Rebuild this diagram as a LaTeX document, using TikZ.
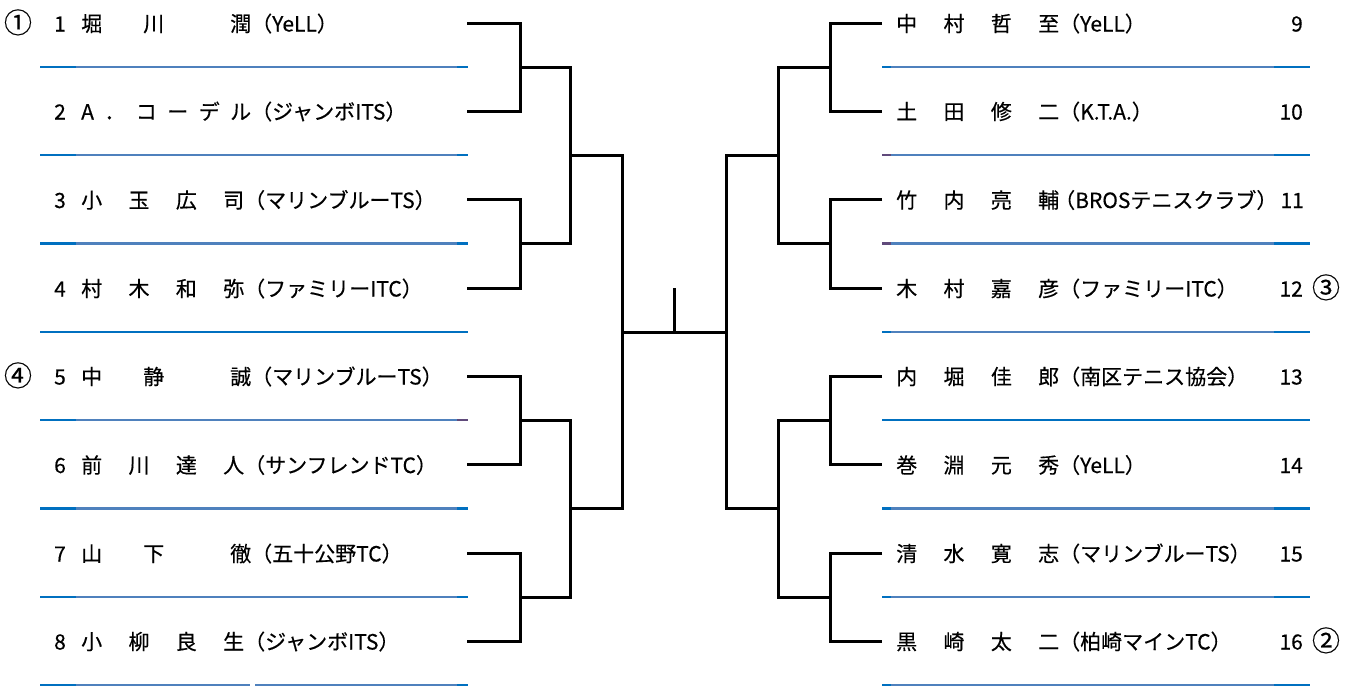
\documentclass[tikz,border=0pt]{standalone}
\usepackage{fontspec}
\setmainfont{Noto Sans CJK JP}[FakeBold=0.4]
\definecolor{rulemain}{HTML}{4F81BD}
\definecolor{rulebright}{HTML}{0070C0}
\definecolor{rulepurple}{HTML}{604A7B}
\tikzset{
  entry/.style={anchor=base west, inner sep=0pt, font=\fontsize{21}{24}\selectfont},
  seedno/.style={anchor=base east, inner sep=0pt, font=\fontsize{21}{24}\selectfont},
  seedmark/.style={anchor=base, inner sep=0pt, font=\fontsize{28}{30}\selectfont},
  bracket/.style={line width=3pt},
  rule/.style={line width=2.8pt, color=rulemain},
}
% names spread over a fixed width
\newcommand\nameL[4]{\makebox[163pt][s]{#1\hfill#2\hfill#3\hfill#4}}
\newcommand\nameLt[3]{\makebox[170pt][s]{#1\hspace{41pt}#2\hfill#3}}
\newcommand\nameR[4]{\makebox[163pt][s]{#1\hfill#2\hfill#3\hfill#4}}
\begin{document}
\begin{tikzpicture}[x=1pt,y=-1pt]
\useasboundingbox (0,0) rectangle (1356,686);

% separator rules, left and right
\foreach \y in {67,155,243.5,508.5,597} {
  \draw[rule] (76,\y) -- (457,\y);
  \draw[rule, rulebright] (40,\y) -- (76,\y);
  \draw[rule, rulebright] (457,\y) -- (468,\y);
}
\draw[rule, rulebright] (40,332) -- (468,332);
\draw[rule] (76,420) -- (457,420);
\draw[rule, rulebright] (40,420) -- (76,420);
\draw[rule, rulepurple] (457,420) -- (468,420);
\draw[rule] (76,685) -- (250,685);
\draw[rule] (255,685) -- (457,685);
\draw[rule, rulebright] (40,685) -- (76,685);
\draw[rule, rulebright] (457,685) -- (468,685);
\foreach \y/\c in {67/rulebright,155/rulepurple,243.5/rulepurple,332/rulebright,508.5/rulebright,597/rulebright,685/rulebright} {
  \draw[rule] (891,\y) -- (1274,\y);
  \draw[rule, \c] (882,\y) -- (891,\y);
  \draw[rule, rulebright] (1274,\y) -- (1310,\y);
}
\draw[rule, rulebright] (882,420) -- (1310,420);

% left players
\node (s1) [seedmark] at (18,33) {①};
\node (s4) [seedmark] at (18,386) {④};
\node (k1) [entry] at (54,31.5) {1};
\node (k2) [entry] at (54,119.5) {2};
\node (k3) [entry] at (54,208) {3};
\node (k4) [entry] at (54,296.5) {4};
\node (k5) [entry] at (54,384.5) {5};
\node (k6) [entry] at (54,473) {6};
\node (k7) [entry] at (54,561.5) {7};
\node (k8) [entry] at (54,649.5) {8};
\node (p1) [entry] at (81,31.5) {\nameLt{堀}{川}{潤}（YeLL）};
\node (p2) [entry] at (81,119.5) {\makebox[170pt][s]{A\hfill．\hfill コ\hfill ー\hfill デ\hfill ル}（ジャンボITS）};
\node (p3) [entry] at (81,208) {\nameL{小}{玉}{広}{司}（マリンブルーTS）};
\node (p4) [entry] at (81,296.5) {\nameL{村}{木}{和}{弥}（ファミリーITC）};
\node (p5) [entry] at (81,384.5) {\nameLt{中}{静}{誠}（マリンブルーTS）};
\node (p6) [entry] at (81,473) {\nameL{前}{川}{達}{人}（サンフレンドTC）};
\node (p7) [entry] at (81,561.5) {\nameLt{山}{下}{徹}（五十公野TC）};
\node (p8) [entry] at (81,649.5) {\nameL{小}{柳}{良}{生}（ジャンボITS）};

% right players
\node (q9) [entry] at (896,31.5) {\nameR{中}{村}{哲}{至}（YeLL）};
\node (q10) [entry] at (896,119.5) {\nameR{土}{田}{修}{二}（K.T.A.）};
\node (q11) [entry] at (896,208) {\nameR{竹}{内}{亮}{輔}\kern-5pt（BROSテニスクラブ）\kern-9pt};
\node (q12) [entry] at (896,296.5) {\nameR{木}{村}{嘉}{彦}（ファミリーITC）};
\node (q13) [entry] at (896,384.5) {\nameR{内}{堀}{佳}{郎}（南区テニス協会）};
\node (q14) [entry] at (896,473) {\nameR{巻}{淵}{元}{秀}（YeLL）};
\node (q15) [entry] at (896,561.5) {\nameR{清}{水}{寛}{志}（マリンブルーTS）};
\node (q16) [entry] at (896,649.5) {\nameR{黒}{崎}{太}{二}（柏崎マインTC）};
\node (k9) [seedno] at (1303,31.5) {9};
\node (k10) [seedno] at (1303,119.5) {10};
\node (k11) [seedno] at (1304,208) {11};
\node (k12) [seedno] at (1303,296.5) {12};
\node (k13) [seedno] at (1303,384.5) {13};
\node (k14) [seedno] at (1303,473) {14};
\node (k15) [seedno] at (1303,561.5) {15};
\node (k16) [seedno] at (1303,649.5) {16};
\node (s3) [seedmark] at (1326,298) {③};
\node (s2) [seedmark] at (1326,651) {②};

% bracket points, left half
\coordinate (a1) at (467,23);
\coordinate (a2) at (467,111);
\coordinate (a3) at (467,199.5);
\coordinate (a4) at (467,288);
\coordinate (a5) at (467,376);
\coordinate (a6) at (467,464.5);
\coordinate (a7) at (467,553);
\coordinate (a8) at (467,641);
\coordinate (b12) at (520,67);
\coordinate (b34) at (520,243.5);
\coordinate (b56) at (520,420);
\coordinate (b78) at (520,597);
\coordinate (c14) at (570,155);
\coordinate (c58) at (570,508.5);
\coordinate (fl) at (622,332);
% bracket points, right half
\coordinate (d9) at (882,23);
\coordinate (d10) at (882,111);
\coordinate (d11) at (882,199.5);
\coordinate (d12) at (882,288);
\coordinate (d13) at (882,376);
\coordinate (d14) at (882,464.5);
\coordinate (d15) at (882,553);
\coordinate (d16) at (882,641);
\coordinate (e910) at (830,67);
\coordinate (e1112) at (830,243.5);
\coordinate (e1314) at (830,420);
\coordinate (e1516) at (830,597);
\coordinate (g912) at (778,155);
\coordinate (g1316) at (778,508.5);
\coordinate (fr) at (726,332);
\coordinate (win) at (674,288);

\draw[bracket] (a1) -| (b12) |- (a2);
\draw[bracket] (a3) -| (b34) |- (a4);
\draw[bracket] (a5) -| (b56) |- (a6);
\draw[bracket] (a7) -| (b78) |- (a8);
\draw[bracket] (b12) -| (c14) |- (b34);
\draw[bracket] (b56) -| (c58) |- (b78);
\draw[bracket] (c14) -| (fl) |- (c58);

\draw[bracket] (d9) -| (e910) |- (d10);
\draw[bracket] (d11) -| (e1112) |- (d12);
\draw[bracket] (d13) -| (e1314) |- (d14);
\draw[bracket] (d15) -| (e1516) |- (d16);
\draw[bracket] (e910) -| (g912) |- (e1112);
\draw[bracket] (e1314) -| (g1316) |- (e1516);
\draw[bracket] (g912) -| (fr) |- (g1316);

\draw[bracket] (fl) -- (fr);
\draw[bracket] (win) -- (win |- fl);
\end{tikzpicture}
\end{document}
